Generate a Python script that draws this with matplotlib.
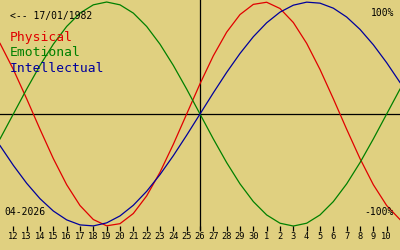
import matplotlib
matplotlib.use("Agg")
import matplotlib.pyplot as plt

# biorhythm around 26/04/2026, birth date 17/01/1982
days = list(range(-15, 16))
day_labels = ['12', '13', '14', '15', '16', '17', '18', '19', '20', '21', '22', '23', '24', '25',
              '26', '27', '28', '29', '30', '1', '2', '3', '4', '5', '6', '7', '8', '9', '10']
tick_days = list(range(-14, 15))

physical = [0.631, 0.398, 0.136, -0.136, -0.398, -0.631, -0.817, -0.942, -0.998, -0.979,
            -0.888, -0.731, -0.520, -0.270, 0.0, 0.270, 0.520, 0.731, 0.888, 0.979,
            0.998, 0.942, 0.817, 0.631, 0.398, 0.136, -0.136, -0.398, -0.631, -0.817, -0.942]
emotional = [-0.2225, 0.0, 0.2225, 0.4339, 0.6235, 0.7818, 0.9010, 0.9749, 1.0, 0.9749,
             0.9010, 0.7818, 0.6235, 0.4339, 0.2225, 0.0, -0.2225, -0.4339, -0.6235, -0.7818,
             -0.9010, -0.9749, -1.0, -0.9749, -0.9010, -0.7818, -0.6235, -0.4339, -0.2225, 0.0, 0.2225]
intellectual = [-0.2817, -0.4582, -0.6182, -0.7557, -0.8660, -0.9450, -0.9898, -0.9989, -0.9718, -0.9096,
                -0.8146, -0.6901, -0.5406, -0.3717, -0.1893, 0.0, 0.1893, 0.3717, 0.5406, 0.6901,
                0.8146, 0.9096, 0.9718, 0.9989, 0.9898, 0.9450, 0.8660, 0.7557, 0.6182, 0.4582, 0.2817]

bg = '#e0d080'
red = '#e00000'
green = '#008000'
blue = '#00009c'

fig = plt.figure(figsize=(4, 2.5), dpi=100, facecolor=bg)
ax = fig.add_axes([0, 0, 1, 1])
ax.set_facecolor(bg)
ax.set_xlim(-15, 15)
ax.set_ylim(-1.214, 1.018)
ax.axis('off')

mono = 'DejaVu Sans Mono'

# axes
ax.axhline(0, color='black', lw=0.9)
ax.vlines(0, -1.036, 1.1, color='black', lw=0.9)

ax.plot(days, physical, color=red, lw=0.9)
ax.plot(days, emotional, color=green, lw=0.9)
ax.plot(days, intellectual, color=blue, lw=0.9)

# day ticks
ax.vlines(tick_days, -1.0, -1.045, color='black', lw=0.9)
for d, lab in zip(tick_days, day_labels):
    ax.text(d, -1.097, lab, ha='center', va='center', fontsize=6.3,
            family=mono, color='black')

# texts
ax.text(0.025, 0.935, '<-- 17/01/1982', transform=ax.transAxes, fontsize=7,
        family=mono, va='center', ha='left')
ax.text(0.025, 0.848, 'Physical', transform=ax.transAxes, fontsize=9.4,
        family=mono, va='center', ha='left', color=red)
ax.text(0.025, 0.788, 'Emotional', transform=ax.transAxes, fontsize=9.4,
        family=mono, va='center', ha='left', color=green)
ax.text(0.025, 0.728, 'Intellectual', transform=ax.transAxes, fontsize=9.4,
        family=mono, va='center', ha='left', color=blue)
ax.text(0.985, 0.95, '100%', transform=ax.transAxes, fontsize=7,
        family=mono, va='center', ha='right')
ax.text(0.985, 0.152, '-100%', transform=ax.transAxes, fontsize=7,
        family=mono, va='center', ha='right')
ax.text(0.012, 0.152, '04-2026', transform=ax.transAxes, fontsize=7,
        family=mono, va='center', ha='left')

fig.savefig('out.png', dpi=100, facecolor=bg)
